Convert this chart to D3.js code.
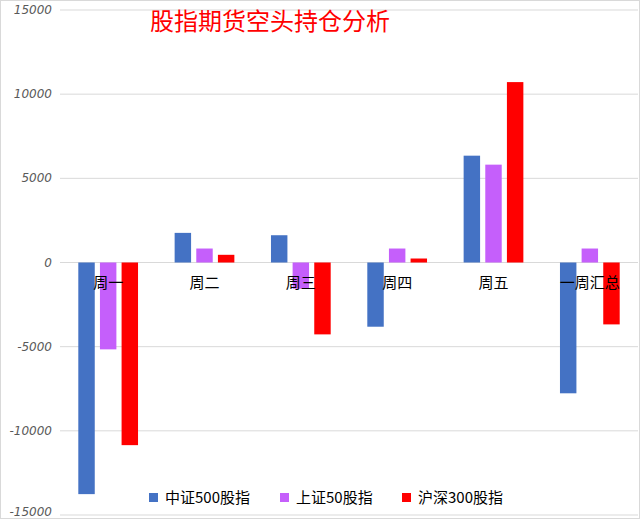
<!DOCTYPE html>
<html><head><meta charset="utf-8">
<script src="https://cdn.jsdelivr.net/npm/d3@7/dist/d3.min.js"></script>
<style>body{margin:0;background:#fff}svg{display:block}</style>
</head><body>
<script>
const categories = ["周一","周二","周三","周四","周五","一周汇总"];
const seriesNames = ["中证500股指","上证50股指","沪深300股指"];
const zz500 = [-13760, 1760, 1620, -3815, 6346, -7770];
const sz50 = [-5160, 830, -1560, 830, 5813, 830];
const hs300 = [-10850, 457, -4270, 237, 10717, -3677];
const yTicks = [15000,10000,5000,0,-5000,-10000,-15000];
const colors = ["#4472C4","#C55FFB","#FF0000"];

(function(){
const W=640,H=519;
const svg=d3.select("body").append("svg").attr("width",W).attr("height",H);
svg.append("rect").attr("x",0.5).attr("y",0.5).attr("width",W-1).attr("height",H-1).attr("fill","#fff").attr("stroke","#d9d9d9");
const mL=60,mR=638,mT=10,mB=515;
const y=d3.scaleLinear().domain([-15000,15000]).range([mB,mT]);
const x0=d3.scaleBand().domain(categories).range([mL,mR]).paddingInner(0.38).paddingOuter(0.19);
const x1=d3.scaleBand().domain(seriesNames).range([0,x0.bandwidth()]).paddingInner(0.24).paddingOuter(0);

svg.append("g").selectAll("line").data(yTicks).join("line")
  .attr("x1",mL).attr("x2",mR).attr("y1",d=>y(d)).attr("y2",d=>y(d))
  .attr("stroke","#d9d9d9").attr("stroke-width",1);
svg.append("g").selectAll("text").data(yTicks).join("text")
  .attr("x",52).attr("y",d=>Math.min(y(d)+4,516)).attr("text-anchor","end")
  .attr("font-family","DejaVu Sans").attr("font-style","italic").attr("font-size",12).attr("fill","#595959")
  .text(d=>d);

const data=[zz500,sz50,hs300];
const g=svg.append("g");
categories.forEach((c,i)=>{
  seriesNames.forEach((s,j)=>{
    const v=data[j][i];
    g.append("rect").attr("x",x0(c)+x1(s)).attr("width",x1.bandwidth())
      .attr("y",y(Math.max(0,v))).attr("height",Math.abs(y(v)-y(0))).attr("fill",colors[j]);
  });
});
svg.append("g").selectAll("text").data(categories).join("text")
  .attr("x",d=>x0(d)+x0.bandwidth()/2).attr("y",y(0)+25).attr("text-anchor","middle")
  .attr("font-family","Noto Sans CJK SC").attr("font-size",15).attr("fill","#000").text(d=>d);

svg.append("text").attr("x",270).attr("y",30).attr("text-anchor","middle")
  .attr("font-family","Noto Sans CJK SC").attr("font-size",24).attr("fill","#FF0000").text("股指期货空头持仓分析");

const leg=svg.append("g");
const legX=[149,280,402];
seriesNames.forEach((s,j)=>{
  leg.append("rect").attr("x",legX[j]).attr("y",493).attr("width",9).attr("height",9).attr("fill",colors[j]);
  leg.append("text").attr("x",legX[j]+16).attr("y",503).attr("font-family","Noto Sans CJK SC").attr("font-size",15).attr("fill","#000").text(s);
});
})();
</script>
</body></html>
